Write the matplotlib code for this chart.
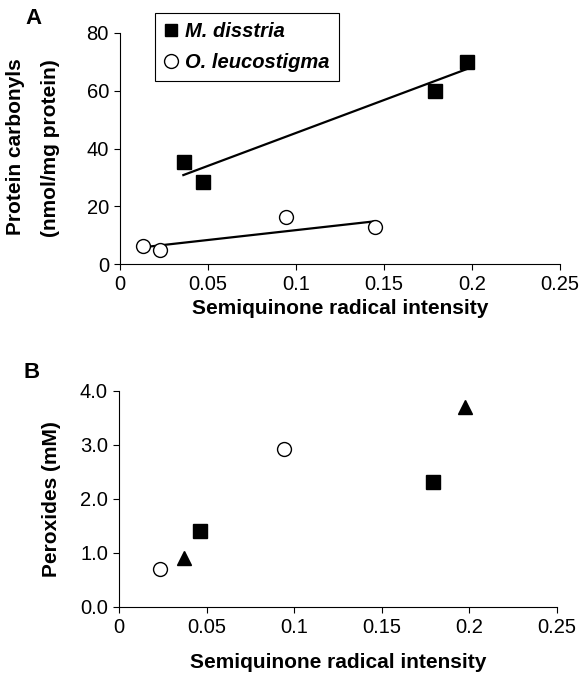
import matplotlib
matplotlib.use("Agg")
import matplotlib.pyplot as plt
from matplotlib.lines import Line2D

plt.rcParams['font.family'] = ['Liberation Sans', 'DejaVu Sans']

# Panel A data
md_x = [0.0364, 0.0472, 0.179, 0.197]
md_y = [35.3, 28.3, 59.9, 70.1]
md_fit_x = [0.036, 0.197]
md_fit_y = [30.8, 67.5]

ol_x = [0.0131, 0.0228, 0.0944, 0.1447]
ol_y = [6.3, 4.8, 16.4, 12.7]
ol_fit_x = [0.0131, 0.145]
ol_fit_y = [5.8, 14.8]

# Panel B data
b_circ_x = [0.0236, 0.0943]
b_circ_y = [0.70, 2.92]
b_sq_x = [0.0461, 0.179]
b_sq_y = [1.41, 2.31]
b_tri_x = [0.0372, 0.1976]
b_tri_y = [0.90, 3.70]

x_ticks = [0, 0.05, 0.1, 0.15, 0.2, 0.25]
x_tick_labels = ['0', '0.05', '0.1', '0.15', '0.2', '0.25']
a_y_ticks = [0, 20, 40, 60, 80]
b_y_ticks = [0, 1, 2, 3, 4]
b_y_tick_labels = ['0.0', '1.0', '2.0', '3.0', '4.0']

W, H = 580, 676
fig = plt.figure(figsize=(5.8, 6.76), dpi=100)
axA = fig.add_axes([120 / W, 1 - 264 / H, (560 - 120) / W, (264 - 33) / H])
axB = fig.add_axes([119 / W, 1 - 606.7 / H, (557 - 119) / W, (606.7 - 390.7) / H])

TICK_FS = 14.5
XLAB_FS = 15
YLAB_FS = 15

def style(ax):
    for s in ['top', 'right']:
        ax.spines[s].set_visible(False)
    for s in ['left', 'bottom']:
        ax.spines[s].set_linewidth(0.8)
    ax.tick_params(direction='out', length=4.5, width=0.8, labelsize=TICK_FS, pad=3.5)
    ax.set_xticks(x_ticks)
    ax.set_xticklabels(x_tick_labels)
    ax.set_xlim(0, 0.25)

style(axA)
axA.set_ylim(0, 80)
axA.set_yticks(a_y_ticks)
axA.plot(md_fit_x, md_fit_y, color='black', lw=1.6, zorder=2)
axA.plot(ol_fit_x, ol_fit_y, color='black', lw=1.6, zorder=2)
axA.plot(md_x, md_y, 's', color='black', ms=9.5, zorder=3, clip_on=False)
axA.plot(ol_x, ol_y, 'o', mfc='white', mec='black', mew=1.0, ms=10, zorder=3, clip_on=False)

handles = [Line2D([], [], marker='s', ls='none', color='black', ms=9),
           Line2D([], [], marker='o', ls='none', mfc='white', mec='black', mew=1.0, ms=10)]
leg = fig.legend(handles, ['M. disstria', 'O. leucostigma'],
                 loc='upper left', bbox_to_anchor=(155 / W, 1 - 13 / H),
                 prop={'weight': 'bold', 'style': 'italic', 'size': 14.5},
                 frameon=True, fancybox=False, edgecolor='black', framealpha=1,
                 handlelength=0.7, handletextpad=0.35, borderpad=0.45,
                 labelspacing=0.6, borderaxespad=0)
leg.get_frame().set_linewidth(0.8)

style(axB)
axB.set_ylim(0, 4)
axB.set_yticks(b_y_ticks)
axB.set_yticklabels(b_y_tick_labels)
axB.plot(b_circ_x, b_circ_y, 'o', mfc='white', mec='black', mew=1.0, ms=10, zorder=3)
axB.plot(b_sq_x, b_sq_y, 's', color='black', ms=10, zorder=3)
axB.plot(b_tri_x, b_tri_y, '^', color='black', ms=10.5, zorder=3)

# axis titles
fig.text(340 / W, 1 - 309 / H, 'Semiquinone radical intensity', fontsize=XLAB_FS,
         fontweight='bold', ha='center', va='center')
fig.text(338 / W, 1 - 662 / H, 'Semiquinone radical intensity', fontsize=XLAB_FS,
         fontweight='bold', ha='center', va='center')
fig.text(16 / W, 1 - 147 / H, 'Protein carbonyls', fontsize=YLAB_FS,
         fontweight='bold', ha='center', va='center', rotation=90)
fig.text(51 / W, 1 - 148 / H, '(nmol/mg protein)', fontsize=YLAB_FS,
         fontweight='bold', ha='center', va='center', rotation=90)
fig.text(52 / W, 1 - 499 / H, 'Peroxides (mM)', fontsize=YLAB_FS,
         fontweight='bold', ha='center', va='center', rotation=90)

fig.text(33 / W, 1 - 18 / H, 'A', fontsize=16, fontweight='bold', ha='center', va='center')
fig.text(32 / W, 1 - 373 / H, 'B', fontsize=16, fontweight='bold', ha='center', va='center')

fig.savefig('out.png', dpi=100)
